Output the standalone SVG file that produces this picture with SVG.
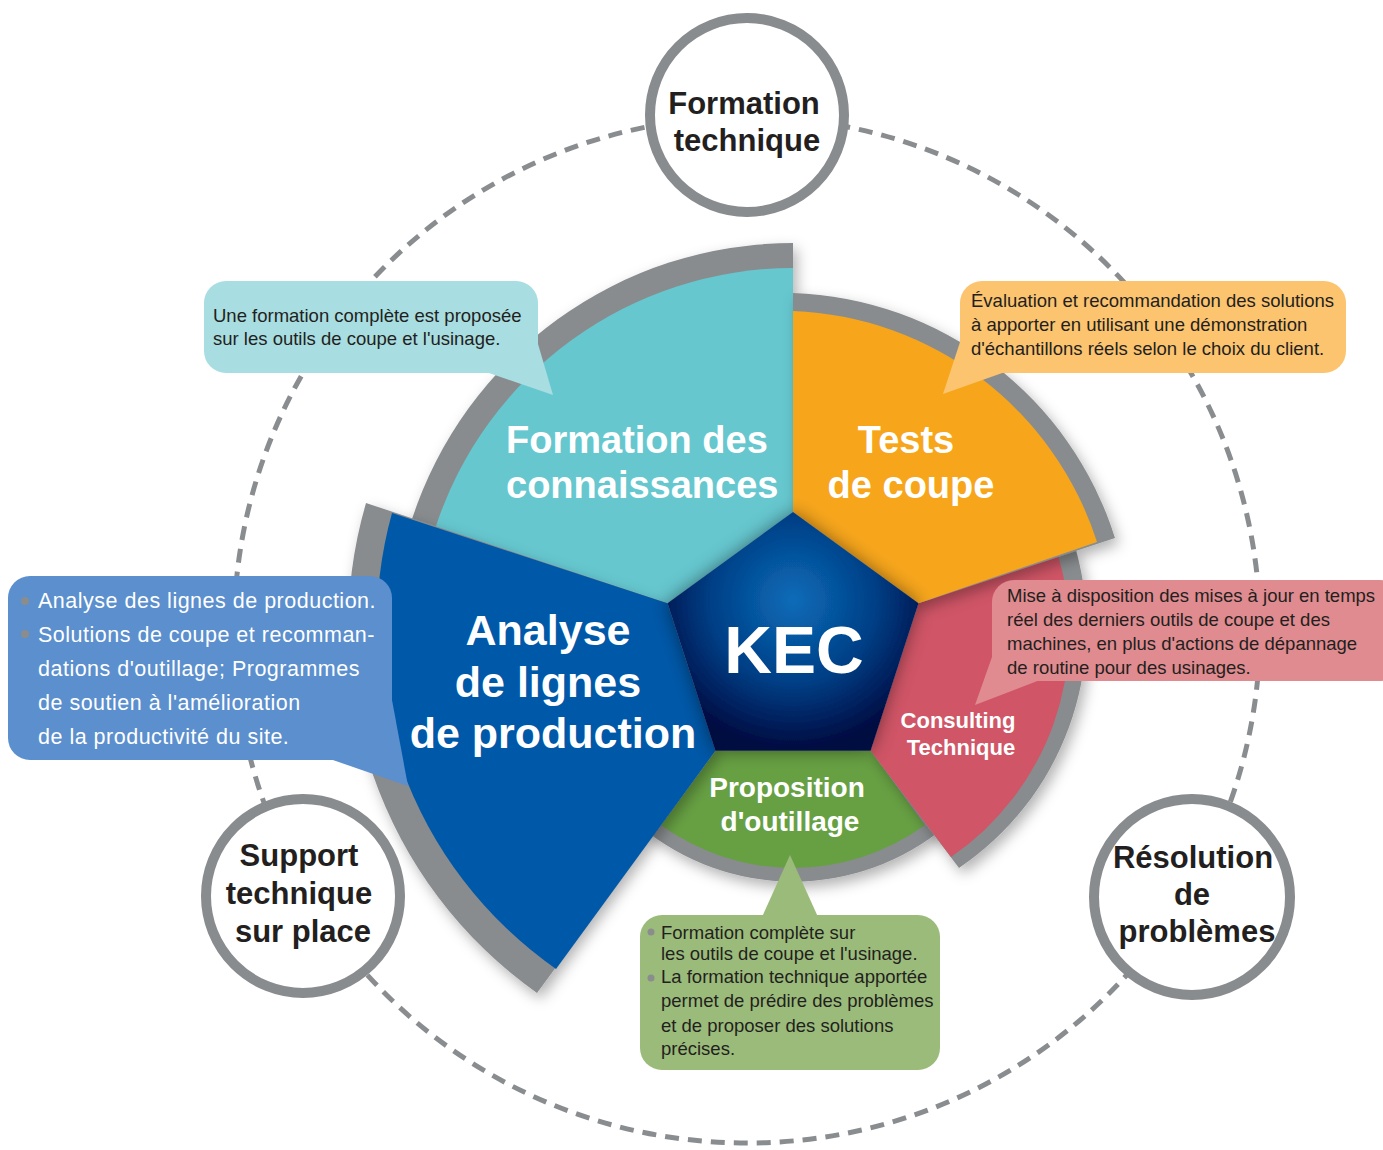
<svg xmlns="http://www.w3.org/2000/svg" width="1383" height="1150" viewBox="0 0 1383 1150">
<defs>
  <filter id="sh" x="-20%" y="-20%" width="140%" height="140%">
    <feDropShadow dx="4" dy="6" stdDeviation="7" flood-color="#000" flood-opacity="0.3"/>
  </filter>
  <filter id="glow" x="-30%" y="-30%" width="160%" height="160%">
    <feDropShadow dx="0" dy="0" stdDeviation="9" flood-color="#000" flood-opacity="0.45"/>
  </filter>
  <radialGradient id="pent" cx="793" cy="600" r="150" gradientUnits="userSpaceOnUse">
    <stop offset="0" stop-color="#0a6cb8"/>
    <stop offset="0.55" stop-color="#023f86"/>
    <stop offset="1" stop-color="#000a40"/>
  </radialGradient>
  <style>
    .band{fill:#898c8e;filter:url(#sh)}
    .lbl{font-family:"Liberation Sans",Arial,sans-serif;font-weight:bold;fill:#fff}
    .ring{fill:#fff;stroke:#898c8e;stroke-width:10}
    .ctxt{font-family:"Liberation Sans",Arial,sans-serif;font-weight:bold;fill:#231f20;font-size:31px;text-anchor:middle}
    .call{font-family:"Liberation Sans",Arial,sans-serif;fill:#231f20;font-size:18.5px}
    .dot{fill:#8a8c8e}
  </style>
</defs>
<rect width="1383" height="1150" fill="#fff"/>

<g id="connectors">
  <circle cx="747" cy="630" r="513" fill="none" stroke="#8a8d8f" stroke-width="5" stroke-dasharray="14 9"/>
</g>

<g id="sector-green">
  <path class="band" d="M870.6,750.8 L946,826 A238 238 0 0 1 640,826 L715.4,750.8 Z"/>
  <path fill="#67a043" d="M870.6,750.8 L924.7,825.2 A224 224 0 0 1 661.3,825.2 L715.4,750.8 Z"/>
  <text class="lbl" font-size="28" text-anchor="middle"><tspan x="787" y="797">Proposition</tspan><tspan x="790" y="831">d'outillage</tspan></text>
</g>

<g id="sector-pink">
  <path class="band" d="M918.5,603.2 L1076,550 A290 290 0 0 1 959,868 L870.6,750.8 Z"/>
  <path fill="#d05566" d="M918.5,603.2 L1058,555 A272 272 0 0 1 951,857 L870.6,750.8 Z"/>
  <text class="lbl" font-size="22" text-anchor="middle"><tspan x="958" y="728">Consulting</tspan><tspan x="961" y="755">Technique</tspan></text>
</g>

<g id="sector-cyan">
  <path class="band" d="M667.5,603.2 L411.6,520.1 A401 401 0 0 1 793,243 L793,512 Z"/>
  <path fill="#66c7cf" d="M667.5,603.2 L435.4,527.8 A376 376 0 0 1 793,268 L793,512 Z"/>
  <text class="lbl" font-size="38"><tspan x="506" y="453">Formation des</tspan><tspan x="506" y="498">connaissances</tspan></text>
</g>

<g id="sector-orange">
  <path class="band" d="M793,512 L793,293 A350 350 0 0 1 1115,538 L918.5,603.2 Z"/>
  <path fill="#f7a61c" d="M793,512 L793,311 A333 333 0 0 1 1097,542 L918.5,603.2 Z"/>
  <text class="lbl" font-size="38" text-anchor="middle"><tspan x="906" y="453">Tests</tspan><tspan x="911" y="498">de coupe</tspan></text>
</g>

<g id="sector-blue">
  <path class="band" d="M667.5,603.2 L366,503 A447 447 0 0 0 537,993 L715.4,750.8 Z"/>
  <path fill="#0058a8" d="M667.5,603.2 L392,513 A420 420 0 0 0 556,969 L715.4,750.8 Z"/>
  <text class="lbl" font-size="43" text-anchor="middle"><tspan x="548" y="645">Analyse</tspan><tspan x="548" y="697">de lignes</tspan><tspan x="553" y="748">de production</tspan></text>
</g>

<g id="kec">
  <polygon points="793,512 918.5,603.2 870.6,750.8 715.4,750.8 667.5,603.2" fill="url(#pent)" filter="url(#glow)"/>
  <text class="lbl" font-size="66" text-anchor="middle" x="794" y="673">KEC</text>
</g>

<g id="circle-formation">
  <circle class="ring" cx="747" cy="115" r="97"/>
  <text class="ctxt"><tspan x="744" y="114">Formation</tspan><tspan x="747" y="151">technique</tspan></text>
</g>

<g id="circle-support">
  <circle class="ring" cx="303" cy="896" r="97"/>
  <text class="ctxt"><tspan x="299" y="866">Support</tspan><tspan x="299" y="904">technique</tspan><tspan x="303" y="942">sur place</tspan></text>
</g>

<g id="circle-resolution">
  <circle class="ring" cx="1192" cy="897" r="98"/>
  <text class="ctxt"><tspan x="1193" y="868">Résolution</tspan><tspan x="1192" y="905">de</tspan><tspan x="1197" y="942">problèmes</tspan></text>
</g>

<g id="callout-cyan">
  <rect x="204" y="281" width="334" height="92" rx="22" fill="#a8dde1"/>
  <polygon points="486,372 553,395 538,344" fill="#a8dde1"/>
  <text class="call"><tspan x="213" y="322">Une formation complète est proposée</tspan><tspan x="213" y="345">sur les outils de coupe et l'usinage.</tspan></text>
</g>

<g id="callout-orange">
  <rect x="960" y="281" width="386" height="92" rx="22" fill="#fcc46f"/>
  <polygon points="962,336 943,394 1005,372" fill="#fcc46f"/>
  <text class="call"><tspan x="971" y="307">Évaluation et recommandation des solutions</tspan><tspan x="971" y="331">à apporter en utilisant une démonstration</tspan><tspan x="971" y="355">d'échantillons réels selon le choix du client.</tspan></text>
</g>

<g id="callout-pink">
  <rect x="992" y="580" width="410" height="101" rx="22" fill="#e08b8f"/>
  <polygon points="998,640 975,705 1040,680" fill="#e08b8f"/>
  <text class="call" font-size="18.3"><tspan x="1007" y="602">Mise à disposition des mises à jour en temps</tspan><tspan x="1007" y="626">réel des derniers outils de coupe et des</tspan><tspan x="1007" y="650">machines, en plus d'actions de dépannage</tspan><tspan x="1007" y="674">de routine pour des usinages.</tspan></text>
</g>

<g id="callout-blue">
  <rect x="8" y="576" width="384" height="184" rx="22" fill="#5b8fcd"/>
  <polygon points="330,759 408,786 392,700" fill="#5b8fcd"/>
  <circle class="dot" cx="25" cy="601" r="4"/>
  <circle class="dot" cx="25" cy="634" r="4"/>
  <text class="call" style="fill:#fff;font-size:21.5px;letter-spacing:0.5px"><tspan x="38" y="608">Analyse des lignes de production.</tspan><tspan x="38" y="642">Solutions de coupe et recomman-</tspan><tspan x="38" y="676">dations d'outillage; Programmes</tspan><tspan x="38" y="710">de soutien à l'amélioration</tspan><tspan x="38" y="744">de la productivité du site.</tspan></text>
</g>

<g id="callout-green">
  <rect x="640" y="915" width="300" height="155" rx="22" fill="#9bbb7a"/>
  <polygon points="762,917 790,855 818,917" fill="#9bbb7a"/>
  <circle class="dot" cx="651" cy="932" r="3.5"/>
  <circle class="dot" cx="651" cy="978" r="3.5"/>
  <text class="call"><tspan x="661" y="939">Formation complète sur</tspan><tspan x="661" y="960">les outils de coupe et l'usinage.</tspan><tspan x="661" y="983">La formation technique apportée</tspan><tspan x="661" y="1007">permet de prédire des problèmes</tspan><tspan x="661" y="1032">et de proposer des solutions</tspan><tspan x="661" y="1055">précises.</tspan></text>
</g>
</svg>
